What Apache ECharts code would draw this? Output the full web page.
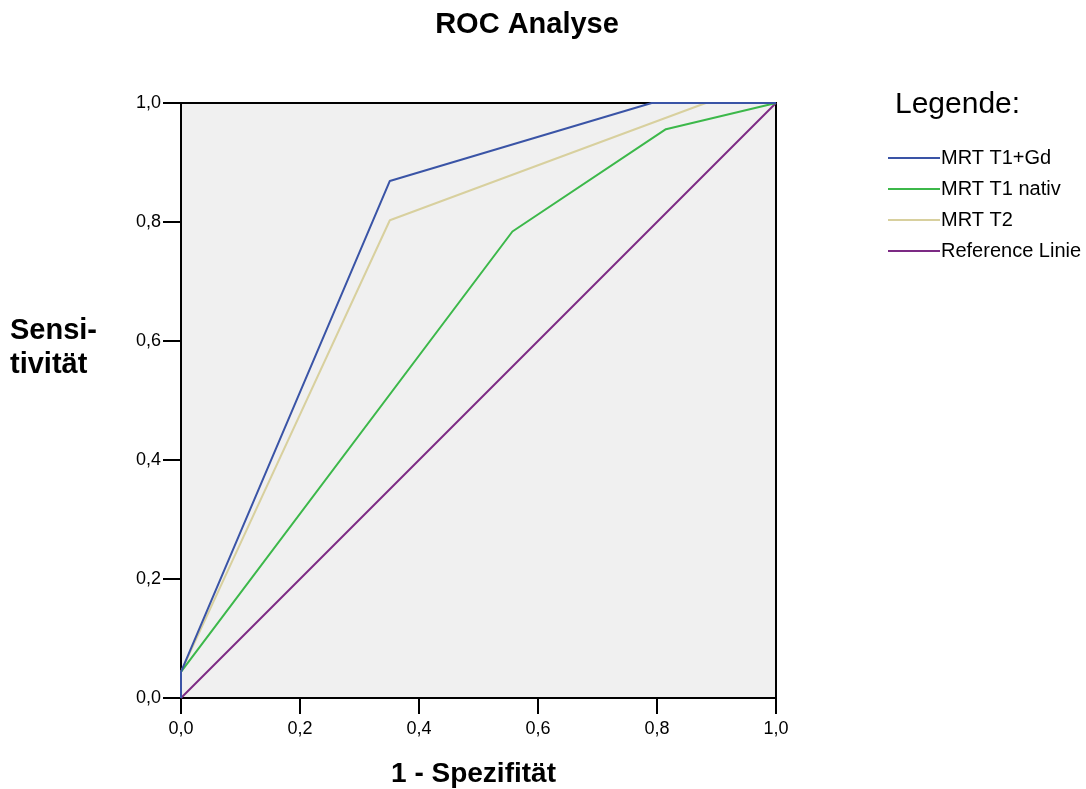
<!DOCTYPE html>
<html>
<head>
<meta charset="utf-8">
<script src="https://cdn.jsdelivr.net/npm/echarts@6/dist/echarts.min.js"></script>
<style>
html,body{margin:0;padding:0;background:#fff;}
#chart{width:1086px;height:789px;}
</style>
</head>
<body>
<div id="chart"></div>
<script>
// ---- data ----
const seriesNames = ['MRT T1+Gd', 'MRT T1 nativ', 'MRT T2', 'Reference Linie'];
const t1gd = [[0, 0], [0, 0.044], [0.351, 0.869], [0.791, 1], [1, 1]];
const t1nativ = [[0, 0], [0, 0.044], [0.557, 0.784], [0.815, 0.956], [1, 1]];
const t2 = [[0, 0], [0, 0.044], [0.351, 0.803], [0.882, 1], [1, 1]];
const reference = [[0, 0], [1, 1]];

const colors = ['#3a54a6', '#3cb84a', '#d8d09e', '#7c2a84'];
const fmt = v => v.toFixed(1).replace('.', ',');
const font = '"Liberation Sans", Arial, sans-serif';

const chart = echarts.init(document.getElementById('chart'), null, {renderer: 'canvas'});
const mk = (name, data, i) => ({
  name: name, type: 'line', data: data, symbol: 'none', silent: true,
  lineStyle: {color: colors[i], width: 2}, itemStyle: {color: colors[i]},
  z: 10 - i
});
chart.setOption({
  animation: false,
  backgroundColor: '#fff',
  textStyle: {fontFamily: font},
  title: {
    text: 'ROC Analyse', left: 522, top: 5, textAlign: 'center',
    textStyle: {fontFamily: font, fontSize: 29, fontWeight: 'bold', color: '#000'}
  },
  grid: {
    left: 181, right: 310, top: 103, bottom: 91, show: true,
    outerBoundsMode: 'none', containLabel: false,
    backgroundColor: '#f0f0f0', borderColor: '#000', borderWidth: 2
  },
  legend: {
    orient: 'vertical', left: 883, top: 143,
    icon: 'rect', itemWidth: 52, itemHeight: 2, itemGap: 11,
    data: seriesNames,
    textStyle: {fontFamily: font, fontSize: 20, color: '#000', padding: [0, 0, 0, -4]},
    selectedMode: false
  },
  graphic: [{
    type: 'text', left: 895, top: 90,
    style: {text: 'Legende:', fontFamily: font, fontSize: 30, fill: '#000'}
  }, {
    type: 'text', left: 10, top: 314,
    style: {text: 'Sensi-\ntivität', fontFamily: font, fontSize: 29, fontWeight: 'bold', fill: '#000', lineHeight: 34}
  }],
  xAxis: {
    type: 'value', min: 0, max: 1, interval: 0.2,
    name: '1 - Spezifität', nameLocation: 'middle', nameGap: 62,
    nameTextStyle: {fontFamily: font, fontSize: 28, fontWeight: 'bold', color: '#000', padding: [0, 10, 0, 0]},
    axisLine: {show: true, lineStyle: {color: '#000', width: 2}},
    axisTick: {show: true, length: 16, lineStyle: {color: '#000', width: 2}},
    axisLabel: {formatter: fmt, fontFamily: font, fontSize: 18, color: '#000', margin: 22},
    splitLine: {show: false}
  },
  yAxis: {
    type: 'value', min: 0, max: 1, interval: 0.2,
    axisLine: {show: true, lineStyle: {color: '#000', width: 2}},
    axisTick: {show: true, length: 18, lineStyle: {color: '#000', width: 2}},
    axisLabel: {formatter: fmt, fontFamily: font, fontSize: 18, color: '#000', margin: 20},
    splitLine: {show: false}
  },
  series: [
    mk(seriesNames[0], t1gd, 0),
    mk(seriesNames[1], t1nativ, 1),
    mk(seriesNames[2], t2, 2),
    mk(seriesNames[3], reference, 3)
  ]
});
</script>
</body>
</html>
